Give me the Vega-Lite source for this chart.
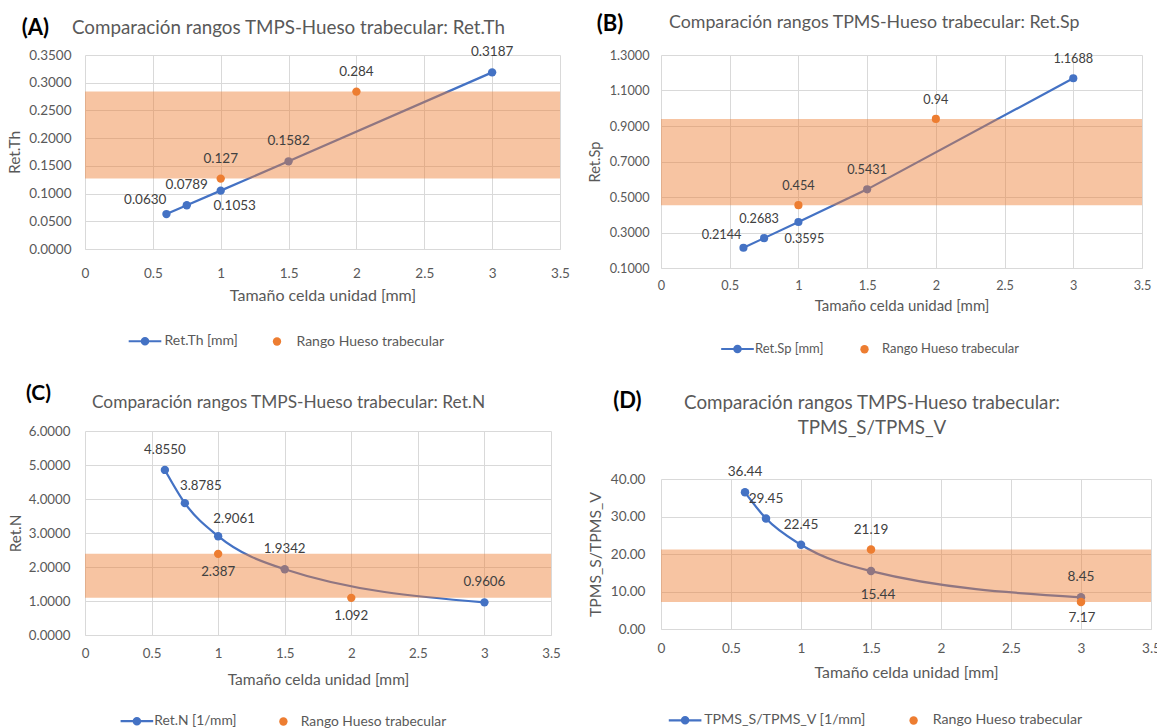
{
  "$schema": "https://vega.github.io/schema/vega-lite/v6.json",
  "background": "#ffffff",
  "padding": {"left": 7, "top": 12, "right": 0, "bottom": 0},
  "config": {
    "font": "Lato",
    "view": {"stroke": null},
    "axis": {"grid": true, "gridColor": "#D9D9D9", "gridWidth": 1, "domain": false, "ticks": false, "labelColor": "#595959", "titleColor": "#595959", "titleFontWeight": "normal", "labelFlush": false, "labelOverlap": false},
    "axisX": {"domain": true, "domainColor": "#D9D9D9"},
    "legend": {"orient": "none", "direction": "horizontal", "labelColor": "#595959", "symbolSize": 70, "padding": 0, "labelLimit": 400},
    "text": {"color": "#404040", "font": "Lato"}
  },
  "spacing": 17,
  "resolve": {"scale": {"x": "independent", "y": "independent", "color": "independent"}, "legend": {"color": "independent"}},
  "hconcat": [
    {
      "spacing": 34,
      "resolve": {"scale": {"x": "independent", "y": "independent", "color": "independent"}, "legend": {"color": "independent"}},
      "vconcat": [
        {
          "title": {"text": "(A)", "anchor": "start", "frame": "bounds", "dx": 14, "offset": -21, "fontSize": 22, "fontWeight": "bold", "color": "#000000", "font": "Lato"},
          "vconcat": [
            {
              "width": 475, "height": 194,
              "title": {"text": "Comparación rangos TMPS-Hueso trabecular: Ret.Th", "anchor": "start", "frame": "group", "dx": -13, "offset": 7.5, "fontSize": 18.8, "fontWeight": "normal", "color": "#595959", "font": "Lato"},
              "data": {"values": [
                {"x": 0.6, "y": 0.0630, "serie": "Ret.Th [mm]"},
                {"x": 0.75, "y": 0.0789, "serie": "Ret.Th [mm]"},
                {"x": 1, "y": 0.1053, "serie": "Ret.Th [mm]"},
                {"x": 1.5, "y": 0.1582, "serie": "Ret.Th [mm]"},
                {"x": 3, "y": 0.3187, "serie": "Ret.Th [mm]"},
                {"x": 1, "y": 0.127, "serie": "Rango Hueso trabecular"},
                {"x": 2, "y": 0.284, "serie": "Rango Hueso trabecular"}
              ]},
              "encoding": {
                "y": {"field": "y", "type": "quantitative", "scale": {"domain": [0, 0.35], "nice": false, "zero": false}, "axis": {"title": "Ret.Th", "values": [0, 0.05, 0.1, 0.15, 0.2, 0.25, 0.3, 0.35], "format": ".4f", "labelFontSize": 13.5, "titleFontSize": 15.5, "labelPadding": 14, "titlePadding": 6, "labelOverlap": false}}
              },
              "layer": [
                {
                  "transform": [{"filter": "datum.serie != 'Rango Hueso trabecular'"}],
                  "mark": {"type": "line", "strokeWidth": 2.25},
                  "encoding": {
                    "x": {"field": "x", "type": "quantitative", "scale": {"domain": [0, 3.5], "nice": false, "zero": false}, "axis": {"title": "Tamaño celda unidad [mm]", "values": [0, 0.5, 1, 1.5, 2, 2.5, 3, 3.5], "format": "~g", "labelFontSize": 13.5, "titleFontSize": 16, "labelPadding": 17.5, "titlePadding": 7, "labelOverlap": false}},
                    "color": {"field": "serie", "type": "nominal", "scale": {"domain": ["Ret.Th [mm]", "Rango Hueso trabecular"], "range": ["#4472C4", "#ED7D31"]},
                      "legend": {"title": null, "legendX": 53, "legendY": 279, "labelFontSize": 14, "labelOffset": 12.5, "columnPadding": 32,
                        "encode": {"symbols": {"update": {
                          "shape": {"signal": "datum.value === 'Rango Hueso trabecular' ? 'circle' : 'M-3.9,0L3.9,0M0.75,0A0.75,0.75,0,1,1,-0.75,0A0.75,0.75,0,1,1,0.75,0Z'"},
                          "fill": {"signal": "datum.value === 'Rango Hueso trabecular' ? '#ED7D31' : '#4472C4'"},
                          "stroke": {"signal": "datum.value === 'Rango Hueso trabecular' ? '#ED7D31' : '#4472C4'"},
                          "strokeWidth": {"signal": "datum.value === 'Rango Hueso trabecular' ? 0 : 2.2"},
                          "opacity": {"value": 1}}}}}}
                  }
                },
                {
                  "transform": [{"filter": "datum.serie != 'Rango Hueso trabecular'"}],
                  "mark": {"type": "point", "filled": true, "size": 70, "opacity": 1},
                  "encoding": {"x": {"field": "x", "type": "quantitative"}, "color": {"field": "serie", "type": "nominal"}}
                },
                {
                  "transform": [{"filter": "datum.serie == 'Rango Hueso trabecular'"}, {"aggregate": [{"op": "min", "field": "y", "as": "lo"}, {"op": "max", "field": "y", "as": "hi"}]}],
                  "mark": {"type": "rect", "color": "#ED7D31", "opacity": 0.45},
                  "encoding": {
                    "y": {"field": "lo", "type": "quantitative", "scale": {"domain": [0, 0.35], "nice": false, "zero": false}, "axis": {"title": "Ret.Th", "values": [0, 0.05, 0.1, 0.15, 0.2, 0.25, 0.3, 0.35], "format": ".4f", "labelFontSize": 13.5, "titleFontSize": 15.5, "labelPadding": 14, "titlePadding": 6, "labelOverlap": false}},
                    "y2": {"field": "hi"}
                  }
                },
                {
                  "transform": [{"filter": "datum.serie == 'Rango Hueso trabecular'"}],
                  "mark": {"type": "point", "filled": true, "size": 70, "opacity": 1},
                  "encoding": {"x": {"field": "x", "type": "quantitative"}, "color": {"field": "serie", "type": "nominal"}}
                },
                {
                  "transform": [{"filter": "datum.serie != 'Rango Hueso trabecular' && (datum.x == 0.75 || datum.x == 1.5 || datum.x == 3)"}],
                  "mark": {"type": "text", "fontSize": 13.5, "dy": -20},
                  "encoding": {"x": {"field": "x", "type": "quantitative"}, "text": {"field": "y", "type": "quantitative", "format": ".4f"}}
                },
                {
                  "transform": [{"filter": "datum.serie != 'Rango Hueso trabecular' && datum.x == 0.6"}],
                  "mark": {"type": "text", "fontSize": 13.5, "align": "right", "dx": 0, "dy": -14},
                  "encoding": {"x": {"field": "x", "type": "quantitative"}, "text": {"field": "y", "type": "quantitative", "format": ".4f"}}
                },
                {
                  "transform": [{"filter": "datum.serie != 'Rango Hueso trabecular' && datum.x == 1"}],
                  "mark": {"type": "text", "fontSize": 13.5, "dx": 14, "dy": 15},
                  "encoding": {"x": {"field": "x", "type": "quantitative"}, "text": {"field": "y", "type": "quantitative", "format": ".4f"}}
                },
                {
                  "transform": [{"filter": "datum.serie == 'Rango Hueso trabecular'"}],
                  "mark": {"type": "text", "fontSize": 13.5, "dy": -20},
                  "encoding": {"x": {"field": "x", "type": "quantitative"}, "text": {"field": "y", "type": "quantitative", "format": ".4~r"}}
                }
              ]
            }
          ]
        },
        {
          "title": {"text": "(C)", "anchor": "start", "frame": "bounds", "dx": 17.7, "offset": -10, "fontSize": 21, "fontWeight": "bold", "color": "#000000", "font": "Lato"},
          "vconcat": [
            {
              "width": 466, "height": 204,
              "title": {"text": "Comparación rangos TMPS-Hueso trabecular: Ret.N", "anchor": "start", "frame": "group", "dx": 7, "offset": 12.6, "fontSize": 17.3, "fontWeight": "normal", "color": "#595959", "font": "Lato"},
              "data": {"values": [
                {"x": 0.6, "y": 4.8550, "serie": "Ret.N [1/mm]"},
                {"x": 0.75, "y": 3.8785, "serie": "Ret.N [1/mm]"},
                {"x": 1, "y": 2.9061, "serie": "Ret.N [1/mm]"},
                {"x": 1.5, "y": 1.9342, "serie": "Ret.N [1/mm]"},
                {"x": 3, "y": 0.9606, "serie": "Ret.N [1/mm]"},
                {"x": 1, "y": 2.387, "serie": "Rango Hueso trabecular"},
                {"x": 2, "y": 1.092, "serie": "Rango Hueso trabecular"}
              ]},
              "encoding": {
                "y": {"field": "y", "type": "quantitative", "scale": {"domain": [0, 6], "nice": false, "zero": false}, "axis": {"title": "Ret.N", "values": [0, 1, 2, 3, 4, 5, 6], "format": ".4f", "labelFontSize": 13.3, "titleFontSize": 15.2, "labelPadding": 15, "titlePadding": 5, "labelOverlap": false}}
              },
              "layer": [
                {
                  "transform": [{"filter": "datum.serie != 'Rango Hueso trabecular'"}],
                  "mark": {"type": "line", "strokeWidth": 2.25, "interpolate": "monotone"},
                  "encoding": {
                    "x": {"field": "x", "type": "quantitative", "scale": {"domain": [0, 3.5], "nice": false, "zero": false}, "axis": {"title": "Tamaño celda unidad [mm]", "values": [0, 0.5, 1, 1.5, 2, 2.5, 3, 3.5], "format": "~g", "labelFontSize": 13.3, "titleFontSize": 15.6, "labelPadding": 11, "titlePadding": 13, "labelOverlap": false}},
                    "color": {"field": "serie", "type": "nominal", "scale": {"domain": ["Ret.N [1/mm]", "Rango Hueso trabecular"], "range": ["#4472C4", "#ED7D31"]},
                      "legend": {"title": null, "legendX": 45, "legendY": 283, "labelFontSize": 13.8, "labelOffset": 10.5, "columnPadding": 39.5,
                        "encode": {"symbols": {"update": {
                          "shape": {"signal": "datum.value === 'Rango Hueso trabecular' ? 'circle' : 'M-3.9,0L3.9,0M0.75,0A0.75,0.75,0,1,1,-0.75,0A0.75,0.75,0,1,1,0.75,0Z'"},
                          "fill": {"signal": "datum.value === 'Rango Hueso trabecular' ? '#ED7D31' : '#4472C4'"},
                          "stroke": {"signal": "datum.value === 'Rango Hueso trabecular' ? '#ED7D31' : '#4472C4'"},
                          "strokeWidth": {"signal": "datum.value === 'Rango Hueso trabecular' ? 0 : 2.2"},
                          "opacity": {"value": 1}}}}}}
                  }
                },
                {
                  "transform": [{"filter": "datum.serie != 'Rango Hueso trabecular'"}],
                  "mark": {"type": "point", "filled": true, "size": 70, "opacity": 1},
                  "encoding": {"x": {"field": "x", "type": "quantitative"}, "color": {"field": "serie", "type": "nominal"}}
                },
                {
                  "transform": [{"filter": "datum.serie == 'Rango Hueso trabecular'"}, {"aggregate": [{"op": "min", "field": "y", "as": "lo"}, {"op": "max", "field": "y", "as": "hi"}]}],
                  "mark": {"type": "rect", "color": "#ED7D31", "opacity": 0.45},
                  "encoding": {
                    "y": {"field": "lo", "type": "quantitative", "scale": {"domain": [0, 6], "nice": false, "zero": false}, "axis": {"title": "Ret.N", "values": [0, 1, 2, 3, 4, 5, 6], "format": ".4f", "labelFontSize": 13.3, "titleFontSize": 15.2, "labelPadding": 15, "titlePadding": 5, "labelOverlap": false}},
                    "y2": {"field": "hi"}
                  }
                },
                {
                  "transform": [{"filter": "datum.serie == 'Rango Hueso trabecular'"}],
                  "mark": {"type": "point", "filled": true, "size": 70, "opacity": 1},
                  "encoding": {"x": {"field": "x", "type": "quantitative"}, "color": {"field": "serie", "type": "nominal"}}
                },
                {
                  "transform": [{"filter": "datum.serie != 'Rango Hueso trabecular' && (datum.x == 0.6 || datum.x == 1.5 || datum.x == 3)"}],
                  "mark": {"type": "text", "fontSize": 13.3, "dy": -20},
                  "encoding": {"x": {"field": "x", "type": "quantitative"}, "text": {"field": "y", "type": "quantitative", "format": ".4f"}}
                },
                {
                  "transform": [{"filter": "datum.serie != 'Rango Hueso trabecular' && (datum.x == 0.75 || datum.x == 1)"}],
                  "mark": {"type": "text", "fontSize": 13.3, "dx": 16, "dy": -17},
                  "encoding": {"x": {"field": "x", "type": "quantitative"}, "text": {"field": "y", "type": "quantitative", "format": ".4f"}}
                },
                {
                  "transform": [{"filter": "datum.serie == 'Rango Hueso trabecular'"}],
                  "mark": {"type": "text", "fontSize": 13.3, "dy": 18},
                  "encoding": {"x": {"field": "x", "type": "quantitative"}, "text": {"field": "y", "type": "quantitative", "format": ".4~r"}}
                }
              ]
            }
          ]
        }
      ]
    },
    {
      "spacing": 33,
      "resolve": {"scale": {"x": "independent", "y": "independent", "color": "independent"}, "legend": {"color": "independent"}},
      "vconcat": [
        {
          "title": {"text": "(B)", "anchor": "start", "frame": "bounds", "dx": 9.5, "offset": -21.5, "fontSize": 22, "fontWeight": "bold", "color": "#000000", "font": "Lato"},
          "vconcat": [
            {
              "width": 481, "height": 213,
              "title": {"text": "Comparación rangos TPMS-Hueso trabecular: Ret.Sp", "anchor": "start", "frame": "group", "dx": 8, "offset": 17, "fontSize": 17.8, "fontWeight": "normal", "color": "#595959", "font": "Lato"},
              "data": {"values": [
                {"x": 0.6, "y": 0.2144, "serie": "Ret.Sp [mm]"},
                {"x": 0.75, "y": 0.2683, "serie": "Ret.Sp [mm]"},
                {"x": 1, "y": 0.3595, "serie": "Ret.Sp [mm]"},
                {"x": 1.5, "y": 0.5431, "serie": "Ret.Sp [mm]"},
                {"x": 3, "y": 1.1688, "serie": "Ret.Sp [mm]"},
                {"x": 1, "y": 0.454, "serie": "Rango Hueso trabecular"},
                {"x": 2, "y": 0.94, "serie": "Rango Hueso trabecular"}
              ]},
              "encoding": {
                "y": {"field": "y", "type": "quantitative", "scale": {"domain": [0.1, 1.3], "nice": false, "zero": false}, "axis": {"title": "Ret.Sp", "values": [0.1, 0.3, 0.5, 0.7, 0.9, 1.1, 1.3], "format": ".4f", "labelFontSize": 12.7, "titleFontSize": 14.6, "labelPadding": 12, "titlePadding": 7, "labelOverlap": false}}
              },
              "layer": [
                {
                  "transform": [{"filter": "datum.serie != 'Rango Hueso trabecular'"}],
                  "mark": {"type": "line", "strokeWidth": 2.2},
                  "encoding": {
                    "x": {"field": "x", "type": "quantitative", "scale": {"domain": [0, 3.5], "nice": false, "zero": false}, "axis": {"title": "Tamaño celda unidad [mm]", "values": [0, 0.5, 1, 1.5, 2, 2.5, 3, 3.5], "format": "~g", "labelFontSize": 12.7, "titleFontSize": 15, "labelPadding": 11, "titlePadding": 7, "labelOverlap": false}},
                    "color": {"field": "serie", "type": "nominal", "scale": {"domain": ["Ret.Sp [mm]", "Rango Hueso trabecular"], "range": ["#4472C4", "#ED7D31"]},
                      "legend": {"title": null, "legendX": 70, "legendY": 287, "labelFontSize": 13, "labelOffset": 11, "columnPadding": 34,
                        "encode": {"symbols": {"update": {
                          "shape": {"signal": "datum.value === 'Rango Hueso trabecular' ? 'circle' : 'M-3.9,0L3.9,0M0.75,0A0.75,0.75,0,1,1,-0.75,0A0.75,0.75,0,1,1,0.75,0Z'"},
                          "fill": {"signal": "datum.value === 'Rango Hueso trabecular' ? '#ED7D31' : '#4472C4'"},
                          "stroke": {"signal": "datum.value === 'Rango Hueso trabecular' ? '#ED7D31' : '#4472C4'"},
                          "strokeWidth": {"signal": "datum.value === 'Rango Hueso trabecular' ? 0 : 2.2"},
                          "opacity": {"value": 1}}}}}}
                  }
                },
                {
                  "transform": [{"filter": "datum.serie != 'Rango Hueso trabecular'"}],
                  "mark": {"type": "point", "filled": true, "size": 66, "opacity": 1},
                  "encoding": {"x": {"field": "x", "type": "quantitative"}, "color": {"field": "serie", "type": "nominal"}}
                },
                {
                  "transform": [{"filter": "datum.serie == 'Rango Hueso trabecular'"}, {"aggregate": [{"op": "min", "field": "y", "as": "lo"}, {"op": "max", "field": "y", "as": "hi"}]}],
                  "mark": {"type": "rect", "color": "#ED7D31", "opacity": 0.45},
                  "encoding": {
                    "y": {"field": "lo", "type": "quantitative", "scale": {"domain": [0.1, 1.3], "nice": false, "zero": false}, "axis": {"title": "Ret.Sp", "values": [0.1, 0.3, 0.5, 0.7, 0.9, 1.1, 1.3], "format": ".4f", "labelFontSize": 12.7, "titleFontSize": 14.6, "labelPadding": 12, "titlePadding": 7, "labelOverlap": false}},
                    "y2": {"field": "hi"}
                  }
                },
                {
                  "transform": [{"filter": "datum.serie == 'Rango Hueso trabecular'"}],
                  "mark": {"type": "point", "filled": true, "size": 66, "opacity": 1},
                  "encoding": {"x": {"field": "x", "type": "quantitative"}, "color": {"field": "serie", "type": "nominal"}}
                },
                {
                  "transform": [{"filter": "datum.serie != 'Rango Hueso trabecular' && (datum.x == 1.5 || datum.x == 3)"}],
                  "mark": {"type": "text", "fontSize": 12.7, "dy": -19},
                  "encoding": {"x": {"field": "x", "type": "quantitative"}, "text": {"field": "y", "type": "quantitative", "format": ".4f"}}
                },
                {
                  "transform": [{"filter": "datum.serie != 'Rango Hueso trabecular' && datum.x == 0.75"}],
                  "mark": {"type": "text", "fontSize": 12.7, "dx": -5, "dy": -19},
                  "encoding": {"x": {"field": "x", "type": "quantitative"}, "text": {"field": "y", "type": "quantitative", "format": ".4f"}}
                },
                {
                  "transform": [{"filter": "datum.serie != 'Rango Hueso trabecular' && datum.x == 0.6"}],
                  "mark": {"type": "text", "fontSize": 12.7, "align": "right", "dx": -2, "dy": -13},
                  "encoding": {"x": {"field": "x", "type": "quantitative"}, "text": {"field": "y", "type": "quantitative", "format": ".4f"}}
                },
                {
                  "transform": [{"filter": "datum.serie != 'Rango Hueso trabecular' && datum.x == 1"}],
                  "mark": {"type": "text", "fontSize": 12.7, "dx": 6, "dy": 17},
                  "encoding": {"x": {"field": "x", "type": "quantitative"}, "text": {"field": "y", "type": "quantitative", "format": ".4f"}}
                },
                {
                  "transform": [{"filter": "datum.serie == 'Rango Hueso trabecular'"}],
                  "mark": {"type": "text", "fontSize": 12.7, "dy": -19},
                  "encoding": {"x": {"field": "x", "type": "quantitative"}, "text": {"field": "y", "type": "quantitative", "format": ".4~r"}}
                }
              ]
            }
          ]
        },
        {
          "title": {"text": "(D)", "anchor": "start", "frame": "bounds", "dx": 26, "offset": -19.5, "fontSize": 22, "fontWeight": "bold", "color": "#000000", "font": "Lato"},
          "vconcat": [
            {
              "width": 490, "height": 150,
              "title": {"text": ["Comparación rangos TMPS-Hueso trabecular:", "TPMS_S/TPMS_V"], "anchor": "middle", "frame": "group", "dx": -34, "offset": 28, "fontSize": 18.8, "lineHeight": 25, "fontWeight": "normal", "color": "#595959", "font": "Lato"},
              "data": {"values": [
                {"x": 0.6, "y": 36.44, "serie": "TPMS_S/TPMS_V [1/mm]"},
                {"x": 0.75, "y": 29.45, "serie": "TPMS_S/TPMS_V [1/mm]"},
                {"x": 1, "y": 22.45, "serie": "TPMS_S/TPMS_V [1/mm]"},
                {"x": 1.5, "y": 15.44, "serie": "TPMS_S/TPMS_V [1/mm]"},
                {"x": 3, "y": 8.45, "serie": "TPMS_S/TPMS_V [1/mm]"},
                {"x": 1.5, "y": 21.19, "serie": "Rango Hueso trabecular"},
                {"x": 3, "y": 7.17, "serie": "Rango Hueso trabecular"}
              ]},
              "encoding": {
                "y": {"field": "y", "type": "quantitative", "scale": {"domain": [0, 40], "nice": false, "zero": false}, "axis": {"title": "TPMS_S/TPMS_V", "values": [0, 10, 20, 30, 40], "format": ".2f", "labelFontSize": 13.6, "titleFontSize": 15.8, "labelPadding": 16, "titlePadding": 7, "labelOverlap": false}}
              },
              "layer": [
                {
                  "transform": [{"filter": "datum.serie != 'Rango Hueso trabecular'"}],
                  "mark": {"type": "line", "strokeWidth": 2.25, "interpolate": "monotone"},
                  "encoding": {
                    "x": {"field": "x", "type": "quantitative", "scale": {"domain": [0, 3.5], "nice": false, "zero": false}, "axis": {"title": "Tamaño celda unidad [mm]", "values": [0, 0.5, 1, 1.5, 2, 2.5, 3, 3.5], "format": "~g", "labelFontSize": 13.6, "titleFontSize": 15.8, "labelPadding": 12, "titlePadding": 11, "labelOverlap": false}},
                    "color": {"field": "serie", "type": "nominal", "scale": {"domain": ["TPMS_S/TPMS_V [1/mm]", "Rango Hueso trabecular"], "range": ["#4472C4", "#ED7D31"]},
                      "legend": {"title": null, "legendX": 17, "legendY": 234, "labelFontSize": 14.2, "labelOffset": 12, "columnPadding": 40.5, "labelLimit": 400,
                        "encode": {"symbols": {"update": {
                          "shape": {"signal": "datum.value === 'Rango Hueso trabecular' ? 'circle' : 'M-3.9,0L3.9,0M0.75,0A0.75,0.75,0,1,1,-0.75,0A0.75,0.75,0,1,1,0.75,0Z'"},
                          "fill": {"signal": "datum.value === 'Rango Hueso trabecular' ? '#ED7D31' : '#4472C4'"},
                          "stroke": {"signal": "datum.value === 'Rango Hueso trabecular' ? '#ED7D31' : '#4472C4'"},
                          "strokeWidth": {"signal": "datum.value === 'Rango Hueso trabecular' ? 0 : 2.2"},
                          "opacity": {"value": 1}}}}}}
                  }
                },
                {
                  "transform": [{"filter": "datum.serie != 'Rango Hueso trabecular'"}],
                  "mark": {"type": "point", "filled": true, "size": 72, "opacity": 1},
                  "encoding": {"x": {"field": "x", "type": "quantitative"}, "color": {"field": "serie", "type": "nominal"}}
                },
                {
                  "transform": [{"filter": "datum.serie == 'Rango Hueso trabecular'"}, {"aggregate": [{"op": "min", "field": "y", "as": "lo"}, {"op": "max", "field": "y", "as": "hi"}]}],
                  "mark": {"type": "rect", "color": "#ED7D31", "opacity": 0.45},
                  "encoding": {
                    "y": {"field": "lo", "type": "quantitative", "scale": {"domain": [0, 40], "nice": false, "zero": false}, "axis": {"title": "TPMS_S/TPMS_V", "values": [0, 10, 20, 30, 40], "format": ".2f", "labelFontSize": 13.6, "titleFontSize": 15.8, "labelPadding": 16, "titlePadding": 7, "labelOverlap": false}},
                    "y2": {"field": "hi"}
                  }
                },
                {
                  "transform": [{"filter": "datum.serie == 'Rango Hueso trabecular'"}],
                  "mark": {"type": "point", "filled": true, "size": 72, "opacity": 1},
                  "encoding": {"x": {"field": "x", "type": "quantitative"}, "color": {"field": "serie", "type": "nominal"}}
                },
                {
                  "transform": [{"filter": "(datum.serie != 'Rango Hueso trabecular' && datum.x != 1.5) || (datum.serie == 'Rango Hueso trabecular' && datum.x == 1.5)"}],
                  "mark": {"type": "text", "fontSize": 13.6, "dy": -20},
                  "encoding": {"x": {"field": "x", "type": "quantitative"}, "text": {"field": "y", "type": "quantitative", "format": ".2f"}}
                },
                {
                  "transform": [{"filter": "datum.serie != 'Rango Hueso trabecular' && datum.x == 1.5"}],
                  "mark": {"type": "text", "fontSize": 13.6, "dx": 7, "dy": 24},
                  "encoding": {"x": {"field": "x", "type": "quantitative"}, "text": {"field": "y", "type": "quantitative", "format": ".2f"}}
                },
                {
                  "transform": [{"filter": "datum.serie == 'Rango Hueso trabecular' && datum.x == 3"}],
                  "mark": {"type": "text", "fontSize": 13.6, "dx": 1, "dy": 16},
                  "encoding": {"x": {"field": "x", "type": "quantitative"}, "text": {"field": "y", "type": "quantitative", "format": ".2f"}}
                }
              ]
            }
          ]
        }
      ]
    }
  ]
}
